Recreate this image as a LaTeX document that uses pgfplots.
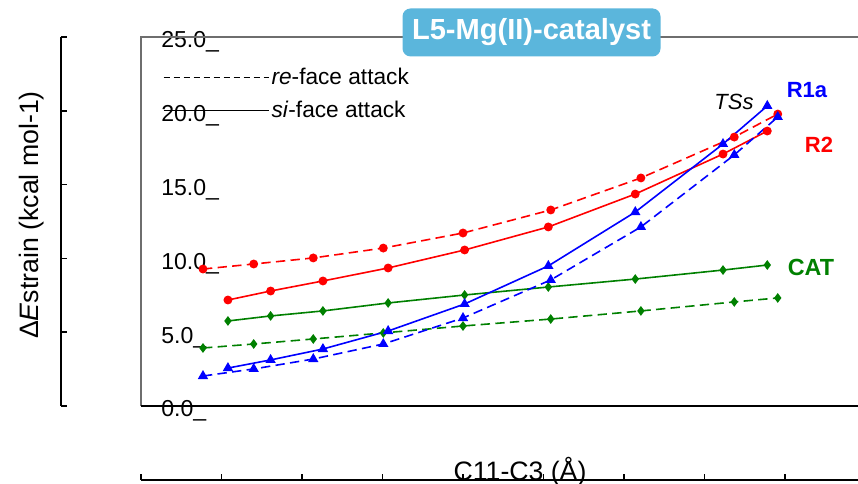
\documentclass[border=0pt]{standalone}
\usepackage{fontspec}
\setmainfont{Liberation Sans}
\usepackage{pgfplots}
\usepackage{pgfplotstable}
\pgfplotsset{compat=1.18}
\definecolor{ttl}{RGB}{91,182,220}
\definecolor{cgreen}{RGB}{0,128,0}
\definecolor{framegray}{RGB}{110,110,110}

% x positions: re-face series (xre), si-face series (xsi)
\pgfplotstableread{
xre   xsi   Rre    Rsi    Bre    Bsi    Gre   Gsi
0.77  1.08  9.28   7.18   2.03   2.57   3.93  5.76
1.40  1.61  9.62   7.79   2.51   3.12   4.20  6.10
2.14  2.26  10.03  8.47   3.18   3.86   4.54  6.44
3.01  3.07  10.70  9.35   4.20   5.08   4.95  6.98
4.00  4.02  11.72  10.57  5.96   6.91   5.42  7.52
5.09  5.06  13.28  12.13  8.54   9.49   5.89  8.06
6.21  6.14  15.45  14.36  12.13  13.14  6.44  8.60
7.37  7.23  18.22  17.07  17.01  17.75  7.05  9.21
7.91  7.78  19.78  18.63  19.58  20.33  7.32  9.55
}\strain

\begin{document}
\begin{tikzpicture}
\useasboundingbox (0,0) rectangle (643.5pt,363pt);

% outer y axis
\begin{axis}[at={(45.75pt,58.5pt)}, anchor=south west, scale only axis,
  width=1pt, height=276.75pt, xmin=0, xmax=1, ymin=0, ymax=25,
  hide x axis, axis y line*=left, ytick={0,5,...,25}, yticklabels={},
  tick align=inside, major tick length=4.5pt,
  axis line style={line width=1.1pt, black, -}, tick style={line width=1.1pt, black}]
\end{axis}

% outer x axis
\begin{axis}[at={(105.75pt,3pt)}, anchor=south west, scale only axis,
  width=546.75pt, height=1pt, xmin=0, xmax=9.056, ymin=0, ymax=1,
  hide y axis, axis x line*=bottom, xtick={0,...,9}, xticklabels={},
  tick align=inside, major tick length=4.5pt,
  axis line style={line width=1.1pt, black, -}, tick style={line width=1.1pt, black}]
\end{axis}

% main axis
\begin{axis}[at={(105.75pt,58.5pt)}, anchor=south west, scale only axis,
  width=546.75pt, height=276.75pt, xmin=0, xmax=9.056, ymin=0, ymax=25,
  separate axis lines, axis line style={draw=none},
  xtick=\empty, ytick={0,5,...,25},
  yticklabels={0.0\_,5.0\_,10.0\_,15.0\_,20.0\_,25.0\_},
  major tick length=0pt,
  yticklabel style={anchor=base west, inner sep=0pt, xshift=15pt, yshift=-8.25pt,
     font=\fontsize{17.3}{20}\selectfont},
  title={L5-Mg(II)-catalyst},
  title style={at={(rel axis cs:0.5357,1)}, anchor=center, yshift=-2.6pt, fill=ttl,
     text=white, font=\bfseries\fontsize{21.8}{24}\selectfont, rounded corners=6pt,
     minimum width=193.5pt, minimum height=36pt, inner sep=0pt},
  legend style={at={(rel axis cs:0.0302,0.9214)}, anchor=north west, draw=none,
     fill=none, inner sep=0pt, row sep=8pt, font=\fontsize{17}{20}\selectfont,
     nodes={inner sep=1.5pt}},
  legend cell align=left,
  legend image code/.code={\draw[#1] (0pt,0pt) -- (79pt,0pt);},
  every axis plot/.append style={line width=1.2pt},
  clip=false]

\draw[framegray, line width=0.9pt] (rel axis cs:0,0) -- (rel axis cs:0,1) -- (rel axis cs:1,1);
\draw[black, line width=0.9pt] (rel axis cs:0,0) -- (rel axis cs:1,0);

\addlegendimage{black, line width=0.7pt, dash pattern=on 4.5pt off 3pt}
\addlegendentry{\textit{re}-face attack}
\addlegendimage{black, line width=0.7pt}
\addlegendentry{\textit{si}-face attack}

\addplot[forget plot, red, dash pattern=on 7pt off 4pt, mark=*, mark size=2.7pt, mark options={solid}] table[x=xre, y=Rre] {\strain};
\addplot[forget plot, red, mark=*, mark size=2.7pt] table[x=xsi, y=Rsi] {\strain};
\addplot[forget plot, cgreen, dash pattern=on 7pt off 4pt, mark=diamond*, mark size=2.7pt, mark options={solid}] table[x=xre, y=Gre] {\strain};
\addplot[forget plot, cgreen, mark=diamond*, mark size=2.7pt] table[x=xsi, y=Gsi] {\strain};
\addplot[forget plot, blue, dash pattern=on 7pt off 4pt, mark=triangle*, mark size=3.3pt, mark options={solid}] table[x=xre, y=Bre] {\strain};
\addplot[forget plot, blue, mark=triangle*, mark size=3.3pt] table[x=xsi, y=Bsi] {\strain};
\end{axis}

\node[rotate=90, font=\fontsize{20}{24}\selectfont] at (24pt,201.75pt) {Δ\textit{E}strain (kcal mol-1)};
\node[anchor=base, font=\fontsize{20}{24}\selectfont] at (390pt,2.6pt) {C11-C3 (Å)};

\node[font=\itshape\fontsize{16.5}{20}\selectfont] at (550.5pt,286.5pt) {TSs};
\node[blue, font=\bfseries\fontsize{16.5}{20}\selectfont] at (605.25pt,295.5pt) {R1a};
\node[red, font=\bfseries\fontsize{16.5}{20}\selectfont] at (614.25pt,254.25pt) {R2};
\node[cgreen, font=\bfseries\fontsize{17.5}{20}\selectfont] at (608.25pt,162.75pt) {CAT};
\end{tikzpicture}
\end{document}
